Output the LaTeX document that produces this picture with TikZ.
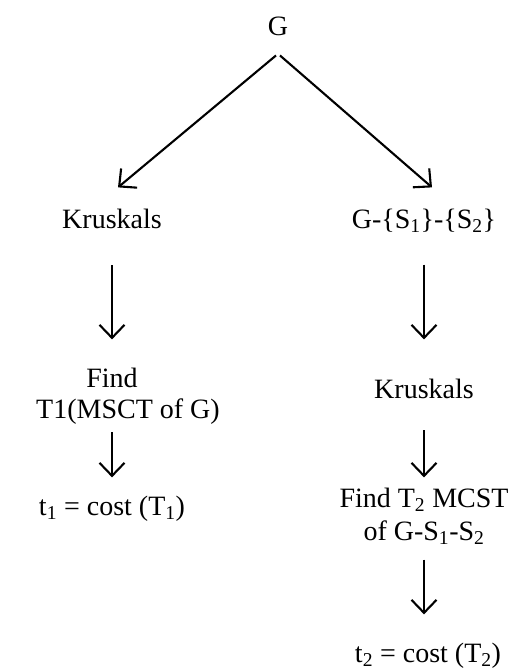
\documentclass[tikz,border=0pt]{standalone}
\usepackage{fontspec}
\setmainfont{Liberation Serif}
\usetikzlibrary{arrows.meta,calc}
\tikzset{
  lbl/.style={anchor=base,inner sep=0pt,font=\fontsize{28}{30}\selectfont},
  arr/.style={line width=2.1pt,-{Straight Barb[length=13pt,width=25pt,line width=2.1pt]}}
}
\begin{document}
\begin{tikzpicture}[x=1pt,y=-1pt]
\useasboundingbox (0,0) rectangle (515,670);
% nodes
\node[lbl] (G)   at (278,35)  {G};
\node[lbl] (k1)  at (112,228) {Kruskals};
\node[lbl] (g2)  at (424,228) {G-\{S\textsubscript{1}\}-\{S\textsubscript{2}\}};
\node[lbl] (f1)  at (112,387) {Find};
\node[lbl] (f1b) at (128,418) {T1(MSCT of G)};
\node[lbl] (t1)  at (112,515) {t\textsubscript{1} = cost (T\textsubscript{1})};
\node[lbl] (k2)  at (424,398) {Kruskals};
\node[lbl] (f2)  at (424,507) {Find T\textsubscript{2} MCST};
\node[lbl] (f2b) at (424,540) {of G-S\textsubscript{1}-S\textsubscript{2}};
\node[lbl] (t2)  at (428,662) {t\textsubscript{2} = cost (T\textsubscript{2})};
% connectors
\draw[arr] ([xshift=-2pt,yshift=-20pt]G.south) -- ([xshift=6pt,yshift=21pt]k1.north);
\draw[arr] ([xshift=2pt,yshift=-20pt]G.south) -- ([xshift=8pt,yshift=21pt]g2.north);
\draw[arr] ([yshift=-37pt]k1.south) -- ([yshift=28pt]f1.north);
\draw[arr] ($(f1b.south -| f1.south)+(0,-8pt)$) -- ([yshift=18pt]t1.north -| f1.south);
\draw[arr] ([yshift=-32pt]g2.south) -- ([yshift=39pt]k2.north);
\draw[arr] ([yshift=-32pt]k2.south) -- ([yshift=10pt]f2.north);
\draw[arr] ($(f2b.south)+(0,-15pt)$) -- ($(t2.north -| f2b.south)+(0,28pt)$);
\end{tikzpicture}
\end{document}
